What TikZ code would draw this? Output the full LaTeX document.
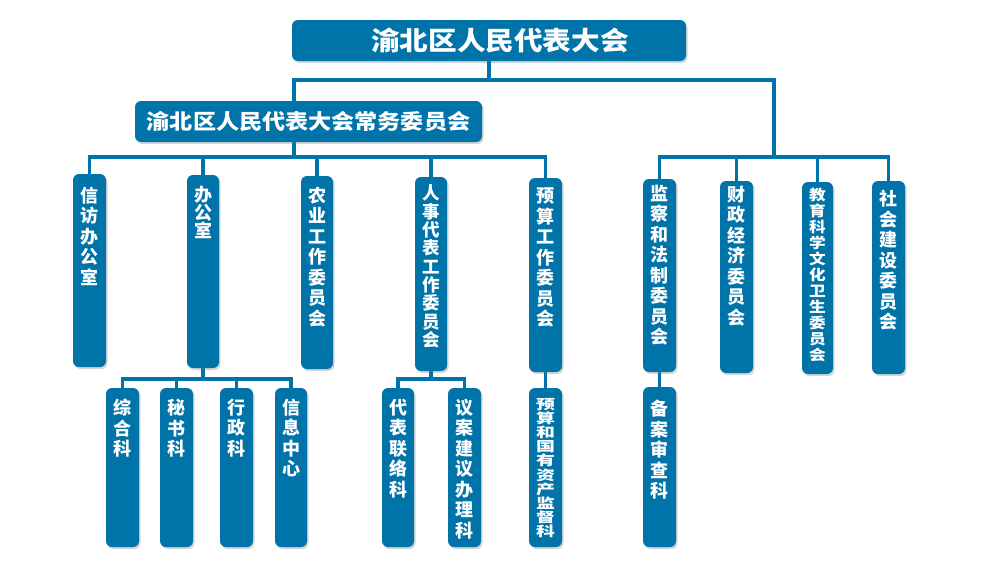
\documentclass[tikz,border=0pt]{standalone}
\usepackage{fontspec}
\newfontfamily\cjk{Noto Sans CJK SC}
\newfontfamily\cjkT[FakeStretch=1.1]{Noto Sans CJK SC}
\newfontfamily\cjkB[FakeStretch=1.15]{Noto Sans CJK SC}
\newfontfamily\cjkC[FakeStretch=1.4]{Noto Sans CJK SC}
\usetikzlibrary{shadows,calc}
\definecolor{nodeblue}{RGB}{0,115,168}
\pgfdeclarelayer{bg}
\pgfsetlayers{bg,main}
\tikzset{
  box/.style={fill=nodeblue, rounded corners=6pt, inner sep=0pt,
    drop shadow={shadow xshift=1.5pt, shadow yshift=-2pt, opacity=0.3, fill=black!55}},
  vtxt/.style={text=white, align=center, inner sep=0pt, anchor=north},
  conn/.style={draw=nodeblue, line width=3.2pt, line cap=rect},
  fnorm/.style={font=\cjk\bfseries\fontsize{18}{20.5}\selectfont},
}
\newcommand\orgbox[8]{%
  \node[box, minimum width={#4-#2}, minimum height={#5-#3}] (#1) at ({(#2+#4)/2},{(#3+#5)/2}) {};
  \node[vtxt, #6] (#1-t) at ($(#1.north)+(0,#7)$) {#8};}
\begin{document}
\begin{tikzpicture}[x=1pt,y=-1pt]
\useasboundingbox (0,0) rectangle (1000,560);
% titles
\node[box, minimum width=394, minimum height=41, text=white,
  font=\cjkT\bfseries\fontsize{26}{30}\selectfont] (top) at (489,40.5) {\hspace*{22pt}渝北区人民代表大会};
\node[box, minimum width=347, minimum height=41, text=white,
  font=\cjkT\bfseries\fontsize{21}{24}\selectfont] (stand) at (308.5,121.5) {渝北区人民代表大会常务委员会};
% level 2
\orgbox{xf}{73}{174}{106}{367}{fnorm}{13}{信\\访\\办\\公\\室}
\orgbox{bg}{187}{175}{219}{368}{font=\cjk\bfseries\fontsize{18}{18}\selectfont}{11}{办\\公\\室}
\orgbox{ny}{301}{176}{333}{369}{fnorm}{11}{农\\业\\工\\作\\委\\员\\会}
\orgbox{rs}{415}{177}{447}{371}{font=\cjk\bfseries\fontsize{17.5}{18.3}\selectfont}{8}{人\\事\\代\\表\\工\\作\\委\\员\\会}
\orgbox{ys}{529}{178}{562}{372}{fnorm}{10}{预\\算\\工\\作\\委\\员\\会}
\orgbox{jc}{643}{179}{676}{372}{fnorm}{6}{监\\察\\和\\法\\制\\委\\员\\会}
\orgbox{cz}{720}{181}{753}{373}{fnorm}{5}{财\\政\\经\\济\\委\\员\\会}
\orgbox{jy}{802}{182}{833}{374}{font=\cjkB\bfseries\fontsize{14.5}{16}\selectfont}{6}{教\\育\\科\\学\\文\\化\\卫\\生\\委\\员\\会}
\orgbox{sh}{872}{181}{905}{374}{fnorm}{9}{社\\会\\建\\设\\委\\员\\会}
% level 3
\orgbox{zh}{106}{388}{139}{547}{fnorm}{11}{综\\合\\科}
\orgbox{ms}{160}{388}{193}{547}{fnorm}{11}{秘\\书\\科}
\orgbox{xz}{220}{388}{253}{547}{fnorm}{11}{行\\政\\科}
\orgbox{xx}{275}{388}{307}{547}{fnorm}{11}{信\\息\\中\\心}
\orgbox{db}{382}{388}{414}{547}{fnorm}{11}{代\\表\\联\\络\\科}
\orgbox{ya}{448}{388}{481}{547}{fnorm}{11}{议\\案\\建\\议\\办\\理\\科}
\orgbox{yg}{529}{388}{562}{547}{font=\cjkC\bfseries\fontsize{13.5}{14.2}\selectfont}{10}{预\\算\\和\\国\\有\\资\\产\\监\\督\\科}
\orgbox{ba}{643}{387}{676}{547}{fnorm}{13}{备\\案\\审\\查\\科}
% junctions
\coordinate (j0l) at (294,80);
\coordinate (j0r) at (774,80);
\coordinate (j1) at (294,157);
\coordinate (j2) at (774,157);
\coordinate (j3) at (203,379);
\coordinate (j4) at (431,379);
\begin{pgfonlayer}{bg}
\draw[conn] (top.south) -- (top.south |- j0l);
\draw[conn] (stand.north -| j0l) -- (j0l) -- (j0r) -- (j2);
% left group
\draw[conn] (stand.south -| j1) -- (j1);
\draw[conn] (xf.north |- j1) -- (ys.north |- j1);
\foreach \n in {xf,bg,ny,rs,ys} \draw[conn] (\n.north) -- (\n.north |- j1);
% right group
\draw[conn] (jc.north |- j2) -- (sh.north |- j2);
\foreach \n in {jc,cz,jy,sh} \draw[conn] (\n.north) -- (\n.north |- j2);
% office subunits
\draw[conn] (bg.south) -- (bg.south |- j3);
\draw[conn] (zh.north |- j3) -- (xx.north |- j3);
\foreach \n in {zh,ms,xz,xx} \draw[conn] (\n.north) -- (\n.north |- j3);
% personnel subunits
\draw[conn] (rs.south) -- (rs.south |- j4);
\draw[conn] (db.north |- j4) -- (ya.north |- j4);
\foreach \n in {db,ya} \draw[conn] (\n.north) -- (\n.north |- j4);
% direct links
\draw[conn] (ys.south) -- (yg.north);
\draw[conn] (jc.south) -- (ba.north);
\end{pgfonlayer}
\end{tikzpicture}
\end{document}
